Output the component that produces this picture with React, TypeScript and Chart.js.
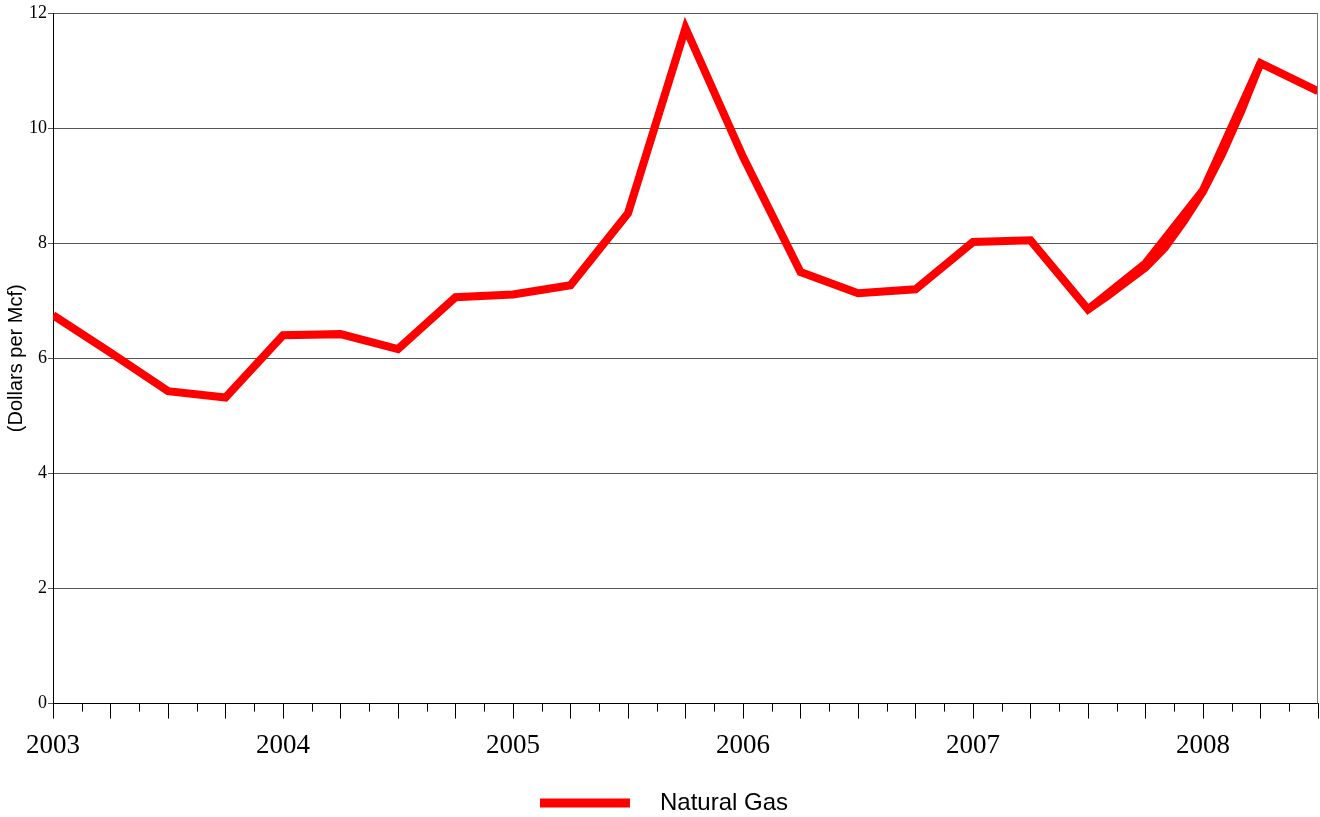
import React, { useEffect, useRef } from "react";
import { Chart, registerables } from "chart.js";

Chart.register(...registerables);

// Quarterly periods (decimal years) and price in dollars per Mcf
const periods = [
  2003, 2003.25, 2003.5, 2003.75,
  2004, 2004.25, 2004.5, 2004.75,
  2005, 2005.25, 2005.5, 2005.75,
  2006, 2006.25, 2006.5, 2006.75,
  2007, 2007.25, 2007.5, 2007.75,
  2008, 2008.25, 2008.5,
];
const prices = [
  6.75, 6.1, 5.43, 5.32,
  6.4, 6.42, 6.16, 7.06,
  7.11, 7.27, 8.52, 11.74,
  9.5, 7.5, 7.13, 7.2,
  8.02, 8.05, 6.85, 7.65,
  8.92, 11.13, 10.64,
];

// Monthly overlay for late 2007 - early 2008
const monthlyPeriods = [
  2007.5, 2007.5833, 2007.6667, 2007.75, 2007.8333,
  2007.9167, 2008.0, 2008.0833, 2008.1667, 2008.25,
];
const monthlyPrices = [6.85, 7.08, 7.33, 7.58, 7.92, 8.38, 8.9, 9.55, 10.3, 11.13];

const yearLabels = ["2003", "2004", "2005", "2006", "2007", "2008"];
const seriesLabel = "Natural Gas";
const yTitle = "(Dollars per Mcf)";

const isMultiple = (v: number, step: number) => Math.abs(v / step - Math.round(v / step)) < 1e-6;

const extrasPlugin = {
  id: "extras",
  afterDraw(chart: any) {
    const { ctx, chartArea } = chart;
    const xs = chart.scales.x;
    ctx.save();
    // minor ticks
    ctx.strokeStyle = "#000";
    ctx.lineWidth = 1;
    xs.ticks.forEach((t: any) => {
      if (!isMultiple(t.value, 0.25)) {
        const px = Math.round(xs.getPixelForValue(t.value)) + 0.5;
        ctx.beginPath();
        ctx.moveTo(px, chartArea.bottom);
        ctx.lineTo(px, chartArea.bottom + 8);
        ctx.stroke();
      }
    });
    // right border
    ctx.strokeStyle = "#777";
    ctx.beginPath();
    ctx.moveTo(Math.round(chartArea.right) - 0.5, chartArea.top);
    ctx.lineTo(Math.round(chartArea.right) - 0.5, chartArea.bottom);
    ctx.stroke();
    // legend
    const ds = chart.data.datasets[0];
    const cy = 803;
    const cx = chart.width / 2;
    ctx.font = "24px 'Liberation Sans', Arial, sans-serif";
    const tw = ctx.measureText(ds.label).width;
    const lineW = 90;
    const gap = 30;
    const total = lineW + gap + tw;
    const x0 = cx - total / 2 + 4;
    ctx.fillStyle = "#ff0000";
    ctx.fillRect(x0, cy - 4.5, lineW, 9);
    ctx.fillStyle = "#000";
    ctx.textBaseline = "middle";
    ctx.textAlign = "left";
    ctx.fillText(ds.label, x0 + lineW + gap, cy);
    ctx.restore();
  },
};

export default function App() {
  const ref = useRef<HTMLCanvasElement>(null);
  useEffect(() => {
    document.body.style.margin = "0";
    const c = ref.current;
    if (!c) return;
    const chart = new Chart(c, {
      type: "line",
      data: {
        datasets: [
          {
            label: seriesLabel,
            data: periods.map((p, i) => ({ x: p, y: prices[i] })),
            borderColor: "#ff0000",
            backgroundColor: "#ff0000",
            borderWidth: 8,
            pointRadius: 0,
            borderJoinStyle: "miter",
            tension: 0,
          },
          {
            label: seriesLabel + " (monthly)",
            data: monthlyPeriods.map((p, i) => ({ x: p, y: monthlyPrices[i] })),
            borderColor: "#ff0000",
            backgroundColor: "#ff0000",
            borderWidth: 8,
            pointRadius: 0,
            tension: 0,
          },
        ],
      },
      options: {
        responsive: false,
        animation: false,
        devicePixelRatio: 1,
        layout: { padding: { left: 1, right: 2, top: 13, bottom: 44 } },
        plugins: {
          legend: { display: false },
          tooltip: { enabled: false },
        },
        scales: {
          x: {
            type: "linear",
            min: 2003,
            max: 2008.5,
            afterFit: (s: any) => {
              s.paddingRight = 0;
            },
            ticks: {
              stepSize: 0.125,
              autoSkip: false,
              maxRotation: 0,
              padding: 11,
              color: "#000",
              font: { family: "'Liberation Serif', 'Times New Roman', serif", size: 27 },
              callback: (v: any) => {
                const n = Number(v);
                if (isMultiple(n, 1)) {
                  const lbl = yearLabels.find((y) => Number(y) === Math.round(n));
                  return lbl ?? "";
                }
                return "";
              },
            },
            grid: {
              drawOnChartArea: false,
              drawTicks: true,
              tickLength: 15,
              color: (ctx: any) =>
                ctx.tick && isMultiple(ctx.tick.value, 0.25) ? "#000" : "rgba(0,0,0,0)",
            },
            border: { display: true, color: "#000", width: 1 },
          },
          y: {
            min: 0,
            max: 12,
            afterFit: (s: any) => {
              s.paddingTop = 0;
            },
            ticks: {
              stepSize: 2,
              padding: 1,
              color: "#000",
              font: { family: "'Liberation Serif', 'Times New Roman', serif", size: 18 },
            },
            grid: {
              color: "#555",
              lineWidth: 1,
              tickLength: 5,
            },
            border: { display: true, color: "#000", width: 1 },
            title: {
              display: true,
              text: yTitle,
              color: "#000",
              font: { family: "'Liberation Sans', Arial, sans-serif", size: 20 },
              padding: { top: 3, bottom: 0 },
            },
          },
        },
      },
      plugins: [extrasPlugin],
    } as any);
    return () => chart.destroy();
  }, []);
  return (
    <div style={{ width: 1320, height: 817 }}>
      <canvas ref={ref} width={1320} height={817} />
    </div>
  );
}
